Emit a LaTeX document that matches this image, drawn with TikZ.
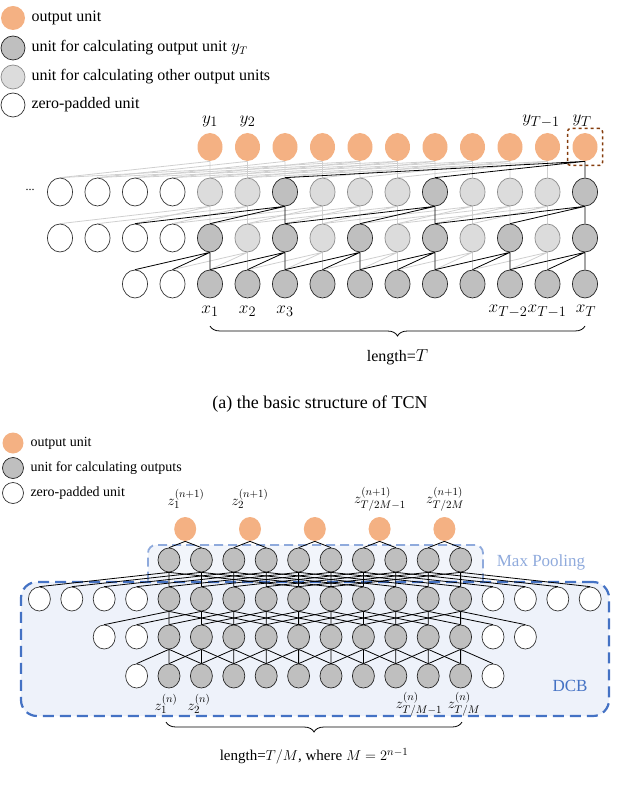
\documentclass[tikz,border=0pt]{standalone}
\usepackage{fontspec}
\setmainfont{Liberation Serif}
\usetikzlibrary{shapes.geometric,decorations.pathreplacing}
\pgfdeclarelayer{back}\pgfdeclarelayer{bg}
\pgfsetlayers{back,bg,main}
\definecolor{org}{HTML}{F4B183}
\definecolor{dg}{HTML}{BFBFBF}
\definecolor{lg}{HTML}{DCDCDC}
\definecolor{lline}{HTML}{CFCFCF}
\definecolor{dcb}{HTML}{4472C4}
\definecolor{mp}{HTML}{8FAADC}
\definecolor{brn}{HTML}{843C0C}
\tikzset{
 un/.style={ellipse,inner sep=0pt,minimum width=25pt,minimum height=28pt,line width=0.7pt},
 wc/.style={un,draw=black!80,fill=white},
 dc/.style={un,draw=black!85,fill=dg},
 lc/.style={un,draw=black!45,fill=lg},
 oc/.style={un,fill=org},
 ub/.style={ellipse,inner sep=0pt,minimum width=22pt,minimum height=24pt,line width=0.7pt},
 wb/.style={ub,draw=black!80,fill=white},
 db/.style={ub,draw=black!85,fill=dg},
 ob/.style={ub,fill=org},
 bl/.style={black,line width=0.8pt},
 ll/.style={lline,line width=0.8pt},
 lab/.style={font=\fontsize{19}{19}\selectfont},
 labs/.style={font=\fontsize{15}{15}\selectfont},
}
\begin{document}
\begin{tikzpicture}[x=1pt,y=-1pt]
\useasboundingbox (0,0) rectangle (640,799);
% legend (a)
\node[oc,minimum width=24pt,minimum height=24pt] (la1) at (13,18) {};
\node[dc,minimum width=24pt,minimum height=24pt] (la2) at (13,48) {};
\node[lc,minimum width=24pt,minimum height=24pt] (la3) at (13,77) {};
\node[wc,minimum width=24pt,minimum height=24pt] (la4) at (13,105) {};
\node[anchor=west,font=\fontsize{16}{16}\selectfont] (ta1) at (28,18) {output unit};
\node[anchor=west,font=\fontsize{16}{16}\selectfont] (ta2) at (28,48) {unit for calculating output unit $y_T$};
\node[anchor=west,font=\fontsize{16}{16}\selectfont] (ta3) at (28,77) {unit for calculating other output units};
\node[anchor=west,font=\fontsize{16}{16}\selectfont] (ta4) at (28,105) {zero-padded unit};
% (a) nodes
\foreach \i in {-2,...,10}{\ifnum\i<0 \node[wc] (b\i) at ({210+37.5*\i},284) {};\else \node[dc] (b\i) at ({210+37.5*\i},284) {};\fi}
\foreach \i in {-4,...,10}{\ifnum\i<0 \node[wc] (m\i) at ({210+37.5*\i},238) {};\else\ifodd\i \node[lc] (m\i) at ({210+37.5*\i},238) {};\else \node[dc] (m\i) at ({210+37.5*\i},238) {};\fi\fi}
\foreach \i in {-4,...,10}{\ifnum\i<0 \node[wc] (t\i) at ({210+37.5*\i},192) {};\else
 \ifnum\i=2 \node[dc] (t\i) at ({210+37.5*\i},192) {};\else
 \ifnum\i=6 \node[dc] (t\i) at ({210+37.5*\i},192) {};\else
 \ifnum\i=10 \node[dc] (t\i) at ({210+37.5*\i},192) {};\else
 \node[lc] (t\i) at ({210+37.5*\i},192) {};\fi\fi\fi\fi}
\foreach \i in {0,...,10}{\node[oc] (o\i) at ({210+37.5*\i},147) {};}
\node[font=\large] (dots) at (30,190) {...};
% (a) edges
\begin{pgfonlayer}{bg}
\foreach \i in {0,...,10}{
 \pgfmathtruncatemacro\ja{\i-1}\pgfmathtruncatemacro\jb{\i-2}
 \ifodd\i \draw[ll] (m\i.south) -- (b\i.north) (m\i.south) -- (b\ja.north) (m\i.south) -- (b\jb.north);\fi
 \pgfmathtruncatemacro\ka{\i-2}\pgfmathtruncatemacro\kb{\i-4}
 \ifnum\i=2 \else\ifnum\i=6 \else\ifnum\i=10 \else
 \draw[ll] (t\i.south) -- (m\i.north) (t\i.south) -- (m\ka.north) (t\i.south) -- (m\kb.north);\fi\fi\fi
 \pgfmathtruncatemacro\la{\i-4}\pgfmathtruncatemacro\lb{\i-8}
 \ifnum\i<10 \draw[ll] (o\i.south) -- (t\i.north) (o\i.south) -- (t\la.north);
 \ifnum\lb>-5 \draw[ll] (o\i.south) -- (t\lb.north);\fi\fi
}
\foreach \i in {0,2,...,10}{
 \pgfmathtruncatemacro\ja{\i-1}\pgfmathtruncatemacro\jb{\i-2}
 \draw[bl] (m\i.south) -- (b\i.north) (m\i.south) -- (b\ja.north) (m\i.south) -- (b\jb.north);}
\foreach \i in {2,6,10}{
 \pgfmathtruncatemacro\ka{\i-2}\pgfmathtruncatemacro\kb{\i-4}
 \draw[bl] (t\i.south) -- (m\i.north) (t\i.south) -- (m\ka.north) (t\i.south) -- (m\kb.north);}
\draw[bl] (o10.south) -- (t10.north) (o10.south) -- (t6.north) (o10.south) -- (t2.north);
\end{pgfonlayer}
\node[draw=brn,dashed,line width=1.5pt,rounded corners=3pt,minimum width=35pt,minimum height=37pt] (sel) at (o10) {};
% (a) labels
\node[lab] (ly1) at (210,121) {$y_1$};
\node[lab] (ly2) at (247.5,121) {$y_2$};
\node[lab] (ly9) at (541,121) {$y_{T-1}$};
\node[lab] (ly10) at (582,121) {$y_T$};
\node[lab] (lx0) at (210,311) {$x_1$};
\node[lab] (lx1) at (247.5,311) {$x_2$};
\node[lab] (lx2) at (285,311) {$x_3$};
\node[lab] (lx8) at (508,311) {$x_{T-2}$};
\node[lab] (lx9) at (547,311) {$x_{T-1}$};
\node[lab] (lx10) at (586,311) {$x_T$};
\coordinate (bra1) at (210,326);\coordinate (bra2) at (585,326);
\draw[decorate,decoration={brace,mirror,amplitude=10pt},line width=0.8pt] (bra1) -- (bra2);
\node[font=\fontsize{16}{16}\selectfont] (lenA) at (397.5,357) {length=$T$};
\node[font=\fontsize{18}{18}\selectfont] (capA) at (320,404) {(a) the basic structure of TCN};
% legend (b)
\node[ob,minimum width=21pt,minimum height=21pt] (lb1) at (13,443) {};
\node[db,minimum width=21pt,minimum height=21pt] (lb2) at (13,468) {};
\node[wb,minimum width=21pt,minimum height=21pt] (lb3) at (13,493) {};
\node[anchor=west,font=\fontsize{14}{14}\selectfont] (tb1) at (27,443) {output unit};
\node[anchor=west,font=\fontsize{14}{14}\selectfont] (tb2) at (27,468) {unit for calculating outputs};
\node[anchor=west,font=\fontsize{14}{14}\selectfont] (tb3) at (27,493) {zero-padded unit};
% (b) boxes
\begin{pgfonlayer}{back}
\node[draw=mp,fill=mp!12,dash pattern=on 9pt off 5pt,line width=1.8pt,rounded corners=8pt,minimum width=335pt,minimum height=50pt] (mpbox) at (315.5,570) {};
\node[draw=dcb,fill=dcb!9,dash pattern=on 11pt off 6pt,line width=2.2pt,rounded corners=16pt,minimum width=588pt,minimum height=134pt] (dcbbox) at (315,649) {};
\end{pgfonlayer}
\node[text=mp,font=\fontsize{17}{17}\selectfont] (mptxt) at (541,562) {Max Pooling};
\node[text=dcb,font=\fontsize{17}{17}\selectfont] (dcbtxt) at (570,686) {DCB};
% (b) nodes
\foreach \i in {-1,...,10}{\ifnum\i<0 \node[wb] (p\i) at ({169+32.4*\i},676) {};\else\ifnum\i>9 \node[wb] (p\i) at ({169+32.4*\i},676) {};\else \node[db] (p\i) at ({169+32.4*\i},676) {};\fi\fi}
\foreach \i in {-2,...,11}{\ifnum\i<0 \node[wb] (r\i) at ({169+32.4*\i},637) {};\else\ifnum\i>9 \node[wb] (r\i) at ({169+32.4*\i},637) {};\else \node[db] (r\i) at ({169+32.4*\i},637) {};\fi\fi}
\foreach \i in {-4,...,13}{\ifnum\i<0 \node[wb] (s\i) at ({169+32.4*\i},599) {};\else\ifnum\i>9 \node[wb] (s\i) at ({169+32.4*\i},599) {};\else \node[db] (s\i) at ({169+32.4*\i},599) {};\fi\fi}
\foreach \i in {0,...,9}{\node[db] (q\i) at ({169+32.4*\i},560) {};}
\foreach \k in {0,...,4}{\node[ob] (z\k) at ({185.2+64.8*\k},529) {};}
\begin{pgfonlayer}{bg}
\foreach \i in {0,...,9}{
 \pgfmathtruncatemacro\ja{\i-1}\pgfmathtruncatemacro\jb{\i+1}
 \draw[bl] (r\i.south) -- (p\i.north) (r\i.south) -- (p\ja.north) (r\i.south) -- (p\jb.north);
 \pgfmathtruncatemacro\ka{\i-2}\pgfmathtruncatemacro\kb{\i+2}
 \draw[bl] (s\i.south) -- (r\i.north) (s\i.south) -- (r\ka.north) (s\i.south) -- (r\kb.north);
 \pgfmathtruncatemacro\la{\i-4}\pgfmathtruncatemacro\lb{\i+4}
 \draw[bl] (q\i.south) -- (s\i.north) (q\i.south) -- (s\la.north) (q\i.south) -- (s\lb.north);}
\foreach \k in {0,...,4}{
 \pgfmathtruncatemacro\ma{2*\k}\pgfmathtruncatemacro\mb{2*\k+1}
 \draw[bl] (z\k.south) -- (q\ma.north) (z\k.south) -- (q\mb.north);}
\end{pgfonlayer}
% (b) labels
\node[labs] (lz0) at (186,499) {$z_1^{(n+1)}$};
\node[labs] (lz1) at (250,499) {$z_2^{(n+1)}$};
\node[labs] (lz3) at (380,499) {$z_{T/2M-1}^{(n+1)}$};
\node[labs] (lz4) at (445,499) {$z_{T/2M}^{(n+1)}$};
\node[labs] (lp0) at (166,704) {$z_1^{(n)}$};
\node[labs] (lp1) at (199,704) {$z_2^{(n)}$};
\node[labs] (lp8) at (419,704) {$z_{T/M-1}^{(n)}$};
\node[labs] (lp9) at (464,704) {$z_{T/M}^{(n)}$};
\coordinate (brb1) at (166,722);\coordinate (brb2) at (462,722);
\draw[decorate,decoration={brace,mirror,amplitude=10pt},line width=0.8pt] (brb1) -- (brb2);
\node[font=\fontsize{15}{15}\selectfont] (lenB) at (314,756) {length=$T/M$, where $M=2^{n-1}$};
\end{tikzpicture}
\end{document}
